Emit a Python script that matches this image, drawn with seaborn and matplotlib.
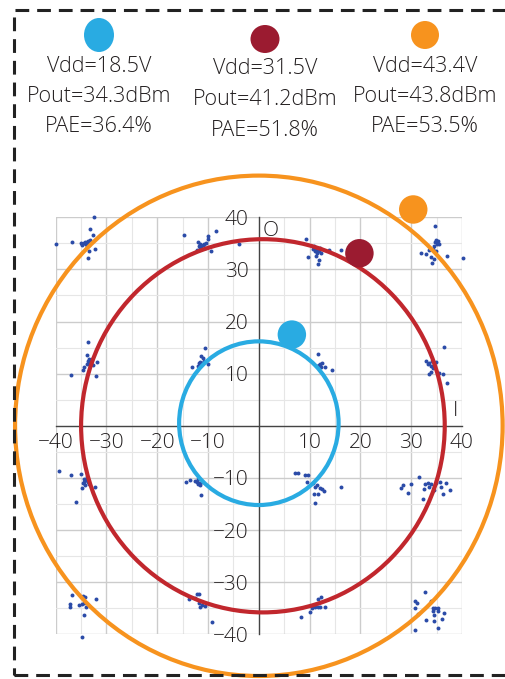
import numpy as np
import pandas as pd
import matplotlib
matplotlib.use("Agg")
import matplotlib.pyplot as plt
from matplotlib.patches import Circle, Ellipse, Rectangle
from matplotlib.ticker import MultipleLocator, FixedLocator
import seaborn as sns

# Constelacion medida (I, Q), un renglon por grupo de simbolos
sym_i = [
    -39.9, -36.8, -35.1, -34.9, -34.8, -34.3, -33.9, -33.6, -33.3, -33.2, -32.5, -32.7, -33.5, -33.4, -33.6, -32.2, -34.0, -34.5, -33.8, -34.2,
    -14.8, -11.8, -11.5, -11.3, -11.0, -10.8, -11.6, -10.6, -10.0, -10.0, -8.4, -4.0, -9.5, -12.2, -10.4, -11.9,
    9.2, 10.7, 11.0, 11.3, 11.6, 11.9, 11.4, 12.0, 9.7, 11.2, 11.9, 11.6, 13.8, 16.1, 12.2, 10.9,
    34.6, 34.8, 35.2, 34.6, 35.0, 34.2, 34.5, 32.0, 33.0, 33.9, 34.4, 34.0, 37.1, 40.1, 35.5, 33.6, 34.9,
    -33.7, -33.9, -32.9, -33.6, -33.2, -33.4, -33.8, -33.0, -34.4, -34.6, -31.8, -32.1, -36.9, -33.5, -32.6,
    -10.7, -11.3, -11.0, -11.5, -11.8, -11.2, -11.6, -13.1, -10.1, -10.8, -12.0,
    11.7, 12.4, 11.9, 11.6, 12.1, 11.4, 13.0, 14.4, 12.2,
    36.5, 32.9, 33.6, 33.9, 34.9, 34.2, 33.9, 33.6, 35.5, 36.2, 37.0, 34.5, 33.4, 34.0,
    -39.3, -37.0, -35.0, -34.4, -34.0, -34.7, -34.2, -33.7, -34.8, -32.3, -36.0, -33.9, -34.5, -33.4,
    -14.4, -13.6, -12.5, -12.2, -11.7, -11.2, -11.9, -11.4, -12.0, -11.5,
    7.1, 7.8, 9.1, 9.7, 9.4, 10.7, 11.0, 10.9, 11.7, 12.4, 12.9, 11.0, 16.1, 11.4, 12.0,
    31.6, 28.4, 27.9, 29.9, 29.3, 32.8, 33.3, 33.6, 33.9, 32.6, 32.3, 34.9, 35.6, 35.9, 36.9, 37.7, 36.2, 34.4,
    -36.7, -37.2, -37.2, -35.4, -34.8, -34.4, -34.7, -34.2, -34.1, -32.1, -34.4, -34.9,
    -12.2, -11.8, -12.5, -13.8, -11.7, -11.2, -10.7, -11.5, -9.2,
    12.2, 11.7, 10.5, 11.0, 11.6, 12.0, 13.1, 10.1, 8.3,
    32.8, 33.8, 30.7, 31.2, 30.7, 31.3, 33.0, 34.2, 34.7, 35.2, 34.4, 34.4, 35.3, 36.0, 36.5, 35.2, 30.7, 34.2,
]
sym_q = [
    34.8, 35.2, 35.0, 34.7, 34.9, 35.1, 35.2, 35.4, 35.6, 37.7, 40.1, 36.7, 34.6, 33.6, 32.1, 33.9, 34.8, 35.0, 34.5, 35.3,
    36.6, 34.5, 34.8, 34.3, 34.6, 34.9, 34.1, 34.2, 36.5, 35.9, 37.3, 34.9, 33.6, 33.8, 35.0, 35.2,
    35.9, 34.0, 33.6, 34.2, 33.8, 33.5, 33.2, 34.1, 32.3, 32.6, 31.8, 31.0, 33.8, 33.8, 33.1, 34.4,
    38.4, 35.7, 35.4, 35.2, 34.8, 33.9, 34.4, 33.1, 33.0, 32.3, 32.0, 31.2, 32.6, 32.2, 34.9, 33.7, 33.5,
    16.0, 13.6, 12.8, 12.5, 12.2, 11.8, 11.9, 12.0, 11.2, 10.7, 12.2, 9.5, 9.7, 12.9, 11.6,
    14.9, 13.4, 13.0, 12.3, 12.0, 12.1, 11.7, 11.3, 11.8, 12.4, 11.5,
    13.7, 12.1, 11.6, 11.3, 11.8, 11.5, 11.3, 10.8, 11.2,
    15.2, 12.5, 12.0, 11.4, 12.2, 11.0, 10.3, 9.9, 10.2, 10.0, 8.2, 11.7, 11.8, 12.4,
    -8.7, -9.5, -9.2, -10.7, -10.4, -11.0, -11.3, -10.8, -12.0, -11.7, -14.6, -9.9, -10.2, -11.2,
    -10.7, -10.4, -10.5, -10.8, -11.0, -10.7, -11.2, -13.3, -10.3, -11.4,
    -9.0, -9.0, -9.4, -9.4, -10.8, -11.0, -11.8, -13.1, -13.0, -12.2, -12.6, -14.8, -11.7, -11.3, -12.0,
    -9.9, -11.4, -12.0, -11.2, -12.8, -11.2, -11.0, -11.7, -11.2, -12.2, -14.0, -11.0, -10.8, -11.7, -11.0, -12.4, -13.0, -12.4,
    -32.4, -34.2, -34.7, -34.4, -34.2, -34.0, -32.6, -32.8, -34.8, -33.3, -36.3, -40.6,
    -32.2, -32.2, -33.0, -33.3, -34.0, -34.4, -34.6, -34.8, -37.6,
    -32.9, -33.3, -35.0, -34.8, -34.7, -34.8, -34.8, -35.8, -36.7,
    -31.8, -33.6, -33.7, -34.0, -35.0, -36.2, -37.2, -35.6, -35.0, -34.9, -36.3, -37.4, -35.6, -37.1, -36.0, -38.8, -39.2, -35.0,
]

# Circulos de amplitud por condicion de polarizacion
vdd = ["18.5V", "31.5V", "43.4V"]
pout = ["34.3dBm", "41.2dBm", "43.8dBm"]
pae = ["36.4%", "51.8%", "53.5%"]
ring_radius = [15.7, 35.8, 48.0]
ring_center_i = [0.0, 0.8, 0.0]
ring_center_q = [0.5, 0.0, 0.0]
ring_mark_i = [6.5, 19.8, 30.4]
ring_mark_q = [17.5, 33.1, 41.5]

tick_vals = [-40, -30, -20, -10, 10, 20, 30, 40]

ring_colors = ["#29ABE2", "#C1272D", "#F7931E"]
dot_colors = ["#29ABE2", "#9B1B30", "#F7931E"]
text_col = "#231F20"

sns.set_theme(style="white")
plt.rcParams["font.family"] = ["Open Sans", "DejaVu Sans"]
plt.rcParams["font.weight"] = "light"

W, H = 506, 679
fig = plt.figure(figsize=(W / 100, H / 100), dpi=100)
ax = fig.add_axes([55.7 / W, 1 - 634.3 / H, 406.3 / W, 417.0 / H])

df = pd.DataFrame({"I": sym_i, "Q": sym_q})
sns.scatterplot(data=df, x="I", y="Q", ax=ax, s=8, color="#2B4BA8",
                linewidth=0, zorder=3, clip_on=False)

for r, cx, cy, c in zip(ring_radius, ring_center_i, ring_center_q, ring_colors):
    ax.add_patch(Circle((cx, cy), r, fill=False, edgecolor=c, linewidth=3.0,
                        zorder=4, clip_on=False))

sns.scatterplot(x=ring_mark_i, y=ring_mark_q, ax=ax, s=420, hue=vdd,
                palette=dot_colors, linewidth=0, zorder=5, legend=False, clip_on=False)

ax.set_xlim(-40, 40)
ax.set_ylim(-40, 40)
ax.set_xlabel("")
ax.set_ylabel("")

# ejes cruzando en el origen
for s in ["top", "right"]:
    ax.spines[s].set_visible(False)
ax.spines["left"].set_position("zero")
ax.spines["bottom"].set_position("zero")
for s in ["left", "bottom"]:
    ax.spines[s].set_color("#444444")
    ax.spines[s].set_linewidth(1.0)
    ax.spines[s].set_zorder(2)

ax.xaxis.set_major_locator(FixedLocator(tick_vals))
ax.yaxis.set_major_locator(FixedLocator(tick_vals))
ax.xaxis.set_minor_locator(MultipleLocator(5))
ax.yaxis.set_minor_locator(MultipleLocator(5))
ax.tick_params(which="both", direction="inout", colors="#444444", width=1.0)
ax.tick_params(which="major", length=7, labelsize=15, labelcolor=text_col, pad=2)
ax.tick_params(which="minor", length=6)
ax.tick_params(axis="y", pad=4)

ax.grid(which="major", color="#cccccc", linewidth=1.0, zorder=0)
ax.grid(which="minor", color="#e6e6e6", linewidth=0.8, zorder=0)
ax.set_axisbelow(True)

ax.text(2.3, 37.4, "O", fontsize=15, color=text_col, ha="center", va="center")
ax.text(38.8, 2.9, "I", fontsize=15, color=text_col, ha="center", va="center")

# leyenda superior
col_x = [99, 265, 425]
col_y = [66, 69, 66]
dot_y = [35, 39, 35]
dot_w = [30, 29, 28]
dot_h = [34, 28, 28]
for k in range(3):
    fig.add_artist(Ellipse((col_x[k] / W, 1 - dot_y[k] / H), dot_w[k] / W, dot_h[k] / H,
                           transform=fig.transFigure, color=dot_colors[k], linewidth=0))
    lines = [f"Vdd={vdd[k]}", f"Pout={pout[k]}", f"PAE={pae[k]}"]
    for j, t in enumerate(lines):
        fig.text(col_x[k] / W, 1 - (col_y[k] + 30.5 * j) / H, t, fontsize=15.5,
                 color=text_col, ha="center", va="center")

# marco punteado
fig.add_artist(Rectangle((14 / W, 1 - 675 / H), 520 / W, 665 / H, transform=fig.transFigure,
                         fill=False, edgecolor="#222222", linewidth=2.2,
                         linestyle=(0, (4.5, 2.6))))

fig.savefig("out.png", dpi=100)
